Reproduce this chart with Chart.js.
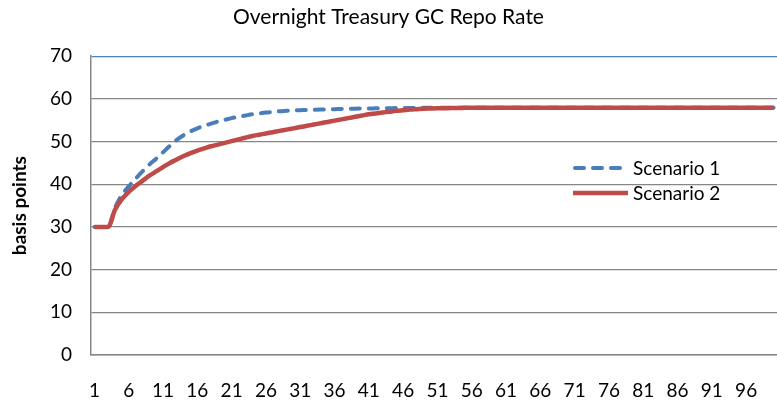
<!DOCTYPE html>
<html>
<head>
<meta charset="utf-8">
<script src="https://cdn.jsdelivr.net/npm/chart.js@4.4.1/dist/chart.umd.min.js"></script>
<style>
  html, body { margin: 0; padding: 0; background: #fff; }
  #wrap { position: relative; width: 777px; height: 405px; }
  #legend { position: absolute; left: 572px; top: 155px; font: 19px Lato, sans-serif; color: #000; }
  .item { display: flex; align-items: center; height: 25px; }
  .item svg { margin-right: 4px; }
</style>
</head>
<body>
<div id="wrap">
  <canvas id="chart" width="777" height="405"></canvas>
  <div id="legend">
    <div class="item"><svg width="57" height="8"><line x1="3" y1="4" x2="55" y2="4" stroke="#4a7ebb" stroke-width="4" stroke-dasharray="9 9" stroke-linecap="round"/></svg>Scenario 1</div>
    <div class="item"><svg width="57" height="8"><line x1="1" y1="4" x2="56" y2="4" stroke="#be4b48" stroke-width="4.5"/></svg>Scenario 2</div>
  </div>
</div>
<script>
const periods = Array.from({ length: 100 }, (_, i) => String(i + 1));
const tickLabels = ['1', '6', '11', '16', '21', '26', '31', '36', '41', '46', '51', '56', '61', '66', '71', '76', '81', '86', '91', '96'];

const scenario1 = [
  30, 30, 30, 34.5, 37.5, 39.5, 41.3, 43.0, 44.6, 46.0,
  47.5, 49.0, 50.4, 51.5, 52.4, 53.1, 53.7, 54.2, 54.7, 55.1,
  55.5, 55.8, 56.1, 56.4, 56.6, 56.8, 56.95, 57.1, 57.2, 57.3,
  57.35, 57.4, 57.45, 57.5, 57.55, 57.6, 57.65, 57.7, 57.7, 57.75,
  57.75, 57.8, 57.8, 57.8, 57.85, 57.85, 57.85, 57.9, 57.9, 57.9,
  57.9, 57.9, 57.9, 57.9, 57.9, 57.9, 57.9, 57.9, 57.9, 57.9,
  57.9, 57.9, 57.9, 57.9, 57.9, 57.9, 57.9, 57.9, 57.9, 57.9,
  57.9, 57.9, 57.9, 57.9, 57.9, 57.9, 57.9, 57.9, 57.9, 57.9,
  57.9, 57.9, 57.9, 57.9, 57.9, 57.9, 57.9, 57.9, 57.9, 57.9,
  57.9, 57.9, 57.9, 57.9, 57.9, 57.9, 57.9, 57.9, 57.9, 57.9
];

const scenario2 = [
  30, 30, 30, 34.0, 36.5, 38.2, 39.6, 40.8, 42.0, 43.0,
  44.0, 45.0, 45.8, 46.6, 47.3, 47.9, 48.4, 48.9, 49.3, 49.7,
  50.1, 50.5, 50.9, 51.3, 51.6, 51.9, 52.2, 52.5, 52.8, 53.1,
  53.4, 53.7, 54.0, 54.3, 54.6, 54.9, 55.2, 55.5, 55.8, 56.1,
  56.4, 56.6, 56.8, 57.0, 57.2, 57.35, 57.5, 57.6, 57.7, 57.75,
  57.8, 57.8, 57.85, 57.85, 57.9, 57.9, 57.9, 57.9, 57.9, 57.9,
  57.9, 57.9, 57.9, 57.9, 57.9, 57.9, 57.9, 57.9, 57.9, 57.9,
  57.9, 57.9, 57.9, 57.9, 57.9, 57.9, 57.9, 57.9, 57.9, 57.9,
  57.9, 57.9, 57.9, 57.9, 57.9, 57.9, 57.9, 57.9, 57.9, 57.9,
  57.9, 57.9, 57.9, 57.9, 57.9, 57.9, 57.9, 57.9, 57.9, 57.9
];

const font = 'Lato, sans-serif';
const gridGray = '#868686';

new Chart(document.getElementById('chart'), {
  type: 'line',
  data: {
    labels: periods,
    datasets: [
      {
        label: 'Scenario 1',
        data: scenario1,
        borderColor: '#4a7ebb',
        borderWidth: 4,
        borderDash: [9, 9],
        borderCapStyle: 'round',
        pointRadius: 0,
        cubicInterpolationMode: 'monotone',
        order: 2
      },
      {
        label: 'Scenario 2',
        data: scenario2,
        borderColor: '#be4b48',
        borderWidth: 4.5,
        pointRadius: 0,
        cubicInterpolationMode: 'monotone',
        order: 1
      }
    ]
  },
  options: {
    responsive: false,
    animation: false,
    devicePixelRatio: 1,
    layout: { padding: 0 },
    plugins: {
      legend: { display: false },
      tooltip: { enabled: false },
      title: {
        display: true,
        text: 'Overnight Treasury GC Repo Rate',
        color: '#000',
        font: { family: font, size: 21, weight: 'normal' },
        padding: { top: 5, bottom: 26 }
      }
    },
    scales: {
      x: {
        offset: true,
        // tick marks kept invisible, their length just pushes the labels down
        grid: { display: true, color: 'transparent', drawTicks: true, tickLength: 24 },
        border: { display: true, color: gridGray, width: 1.5 },
        ticks: {
          autoSkip: false,
          maxRotation: 0,
          padding: 0,
          color: '#000',
          font: { family: font, size: 19 },
          callback: function (v, i) {
            const l = periods[i];
            return tickLabels.includes(l) ? l : '';
          }
        },
        afterFit: s => { s.height = 50; }
      },
      y: {
        min: 0,
        max: 70,
        ticks: {
          stepSize: 10,
          padding: 19,
          color: '#000',
          font: { family: font, size: 19 }
        },
        grid: {
          drawTicks: false,
          lineWidth: 1.2,
          color: ctx => ctx.tick && ctx.tick.value === 70 ? '#4f81bd' : gridGray
        },
        border: { display: true, color: gridGray, width: 1.5 },
        title: {
          display: true,
          text: 'basis points',
          color: '#000',
          font: { family: font, size: 19, weight: 'bold' },
          padding: { top: 8, bottom: 0 }
        },
        afterFit: s => { s.width = 91; }
      }
    }
  }
});
</script>
</body>
</html>
